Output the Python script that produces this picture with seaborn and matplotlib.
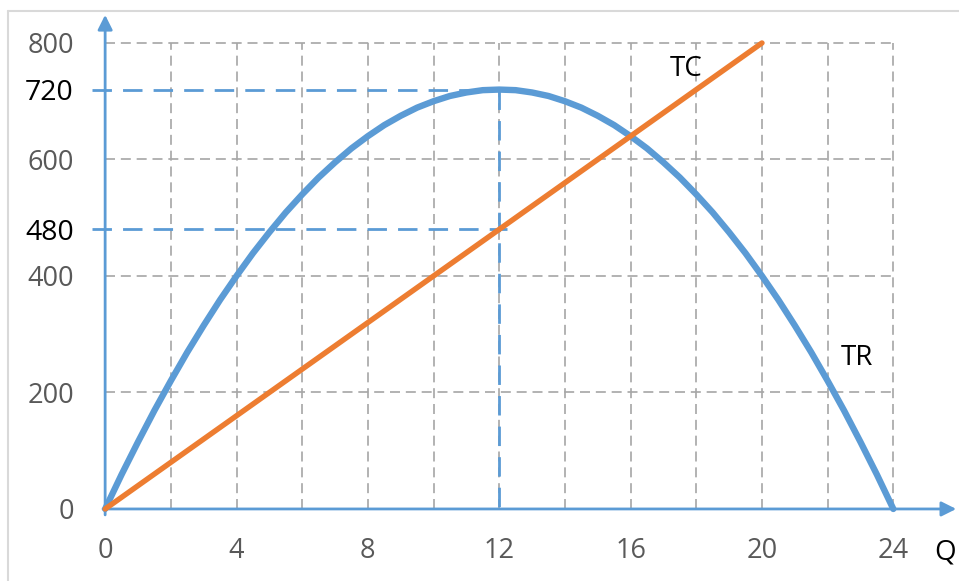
import seaborn as sns
import pandas as pd
import matplotlib.pyplot as plt
from matplotlib.lines import Line2D

# values (TR every half unit of Q)
q_tr = [0, 0.5, 1, 1.5, 2, 2.5, 3, 3.5, 4, 4.5, 5, 5.5, 6, 6.5, 7, 7.5, 8, 8.5,
        9, 9.5, 10, 10.5, 11, 11.5, 12, 12.5, 13, 13.5, 14, 14.5, 15, 15.5,
        16, 16.5, 17, 17.5, 18, 18.5, 19, 19.5, 20, 20.5, 21, 21.5, 22, 22.5,
        23, 23.5, 24]
tr = [0, 59, 115, 169, 220, 269, 315, 359, 400, 439, 475, 509, 540, 569,
      595, 619, 640, 659, 675, 689, 700, 709, 715, 719, 720, 719, 715, 709,
      700, 689, 675, 659, 640, 619, 595, 569, 540, 509, 475, 439, 400, 359,
      315, 269, 220, 169, 115, 59, 0]
q_tc = [0, 4, 8, 12, 16, 20]
tc = [0, 160, 320, 480, 640, 800]

x_ticks = [0, 4, 8, 12, 16, 20, 24]
y_ticks = [0, 200, 400, 480, 600, 720, 800]
y_marked = [480, 720]
q_star = 12

blue = "#5B9BD5"
orange = "#ED7D31"
grid_grey = "#A6A6A6"
text_grey = "#595959"

sns.set_style("white")
plt.rcParams["font.family"] = ["Open Sans", "DejaVu Sans"]

fig = plt.figure(figsize=(9.59, 5.81), dpi=100)
ax = fig.add_axes([92 / 959, 63.3 / 581, 867 / 959, 505.6 / 581])
ax.set_xlim(-0.4, 26.0)
ax.set_ylim(-15, 853)
for s in ax.spines.values():
    s.set_visible(False)

# dashed grid
gkw = dict(color=grid_grey, lw=1.2, dashes=(6, 3.5), zorder=1)
for x in range(2, 25, 2):
    ax.plot([x, x], [0, 800], **gkw)
for y in [200, 400, 600, 800]:
    ax.plot([0, 24], [y, y], **gkw)

# reference lines
rkw = dict(color=blue, lw=2, dashes=(7, 4), zorder=2)
ax.plot([-0.4, q_star], [720, 720], **rkw)
ax.plot([-0.4, q_star + 0.25], [480, 480], **rkw)
ax.plot([q_star, q_star], [720, 0], **rkw)

# axes with arrows
akw = dict(arrowstyle="-|>", color=blue, lw=2, mutation_scale=22)
ax.annotate("", xy=(0, 853), xytext=(0, -15), arrowprops=akw, annotation_clip=False)
ax.annotate("", xy=(26.0, 0), xytext=(-0.15, 0), arrowprops=akw, annotation_clip=False)

df_tr = pd.DataFrame({"Q": q_tr, "TR": tr})
df_tc = pd.DataFrame({"Q": q_tc, "TC": tc})
sns.lineplot(data=df_tr, x="Q", y="TR", color=blue, lw=4.6, ax=ax, zorder=4,
             solid_joinstyle="round")
sns.lineplot(data=df_tc, x="Q", y="TC", color=orange, lw=3.9, ax=ax, zorder=5)

ax.text(17.7, 755, "TC", fontsize=20, color="black", ha="center", va="center")
ax.text(22.9, 260, "TR", fontsize=20, color="black", ha="center", va="center")
ax.text(25.25, -74, "Q", fontsize=20, color="black", ha="left", va="center",
        clip_on=False)

ax.set_xticks(x_ticks)
ax.set_xticklabels([str(v) for v in x_ticks])
ax.set_yticks(y_ticks)
ax.set_yticklabels([str(v) for v in y_ticks])
ax.tick_params(axis="x", length=0, pad=14, labelsize=19.5, labelcolor=text_grey)
ax.tick_params(axis="y", length=0, pad=13, labelsize=19.5, labelcolor=text_grey)
for lab, v in zip(ax.get_yticklabels(), y_ticks):
    if v in y_marked:
        lab.set_color("black")
        lab.set_fontsize(20.5)
ax.set_xlabel("")
ax.set_ylabel("")

# light frame around the picture
fig.add_artist(Line2D([8 / 959, 1], [1 - 11 / 581, 1 - 11 / 581],
                      color="#D9D9D9", lw=1.5, transform=fig.transFigure))
fig.add_artist(Line2D([8 / 959, 8 / 959], [0, 1 - 11 / 581],
                      color="#D9D9D9", lw=1.5, transform=fig.transFigure))

fig.savefig("out.png", dpi=100)
